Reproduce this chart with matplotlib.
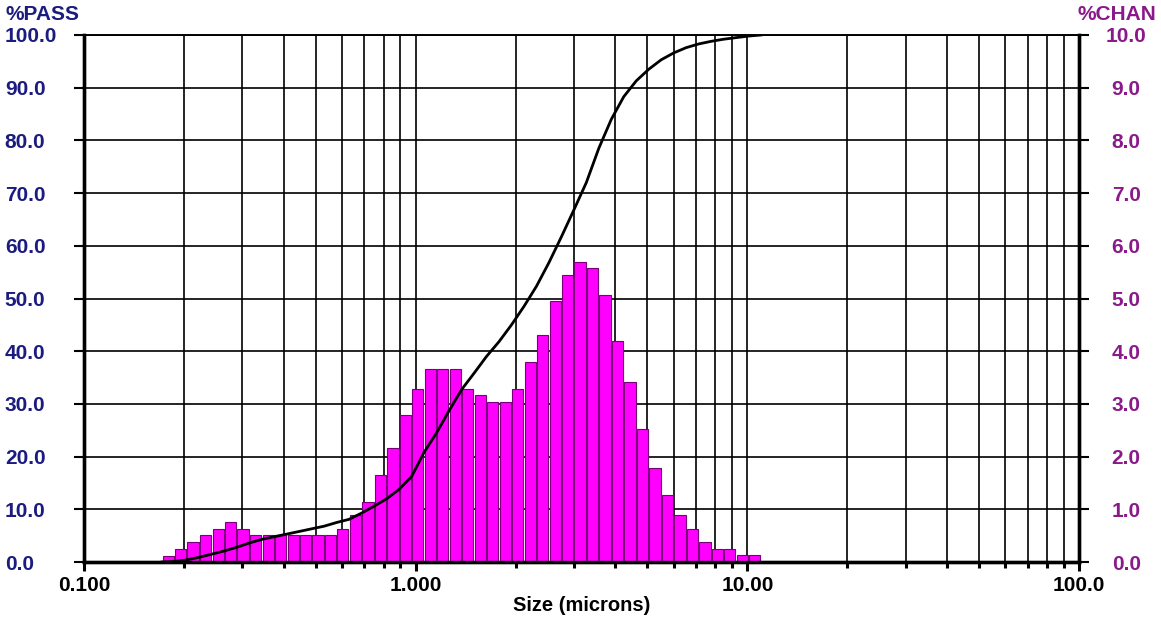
import numpy as np
import matplotlib
matplotlib.use('Agg')
import matplotlib.pyplot as plt
from matplotlib.ticker import FixedLocator, NullFormatter

plt.rcParams['font.family'] = ['Liberation Sans', 'DejaVu Sans']
plt.rcParams['font.weight'] = 'bold'

# channel edges (microns)
edges = [0.172, 0.187, 0.204, 0.223, 0.243, 0.265, 0.289, 0.315, 0.344, 0.375,
         0.409, 0.446, 0.486, 0.530, 0.578, 0.630, 0.688, 0.750, 0.818, 0.892,
         0.972, 1.060, 1.156, 1.261, 1.375, 1.499, 1.635, 1.783, 1.945, 2.121,
         2.312, 2.522, 2.750, 2.999, 3.270, 3.566, 3.889, 4.241, 4.625, 5.044,
         5.500, 5.998, 6.541, 7.133, 7.778, 8.482, 9.250, 10.09, 11.00]

# %CHAN per channel
chan = [0.12, 0.25, 0.38, 0.51, 0.63, 0.76, 0.63, 0.51, 0.51, 0.51,
        0.51, 0.51, 0.51, 0.51, 0.63, 0.89, 1.14, 1.65, 2.17, 2.79,
        3.29, 3.66, 3.66, 3.66, 3.29, 3.17, 3.04, 3.04, 3.29, 3.80,
        4.30, 4.95, 5.45, 5.69, 5.57, 5.07, 4.19, 3.42, 2.53, 1.78,
        1.27, 0.89, 0.63, 0.38, 0.25, 0.25, 0.13, 0.13]

# %PASS at each channel edge
cum_pass = [0.0, 0.1, 0.4, 0.9, 1.5, 2.1, 2.8, 3.6, 4.3, 4.8,
            5.3, 5.8, 6.3, 6.8, 7.5, 8.1, 9.3, 10.6, 12.0, 13.8,
            16.2, 20.8, 24.5, 28.7, 32.7, 35.8, 39.0, 41.8, 45.0, 48.5,
            52.3, 56.8, 61.7, 66.8, 72.0, 78.5, 84.0, 88.3, 91.3, 93.5,
            95.3, 96.6, 97.6, 98.3, 98.8, 99.2, 99.5, 99.8, 100.0]

pass_ticks = [0, 10, 20, 30, 40, 50, 60, 70, 80, 90, 100]
chan_ticks = [0, 1, 2, 3, 4, 5, 6, 7, 8, 9, 10]
x_major = [0.1, 1.0, 10.0, 100.0]
x_labels = ['0.100', '1.000', '10.00', '100.0']

navy = '#1c1c80'
purple = '#8a1a8a'

fig = plt.figure(figsize=(11.61, 6.17), dpi=100)
ax2 = fig.add_axes([84/1161, 55/617, 995/1161, 527/617])   # bars, right scale
ax = ax2.twinx()                                             # curve, left scale
ax.yaxis.tick_left()
ax.yaxis.set_label_position('left')
ax2.yaxis.tick_right()
ax2.yaxis.set_label_position('right')
ax.set_zorder(ax2.get_zorder() + 1)
ax.patch.set_visible(False)

# bars, a bit narrower than each channel
e = np.log10(edges)
gap = 0.05 * (e[1:] - e[:-1])
left = 10 ** (e[:-1] + gap)
right = 10 ** (e[1:] - gap)
ax2.bar(left, chan, width=right - left, align='edge', color='#ff00ff',
        edgecolor='#7a007a', linewidth=0.8, zorder=3)

ax.plot(edges, cum_pass, color='black', lw=2.0, zorder=4)

ax2.set_xscale('log')
ax2.set_xlim(0.1, 100)
ax2.set_ylim(0, 10)
ax.set_ylim(0, 100)

ax2.xaxis.set_major_locator(FixedLocator(x_major))
ax2.set_xticklabels(x_labels)
ax2.xaxis.set_minor_locator(FixedLocator(
    [m * d for d in (0.1, 1, 10) for m in range(2, 10)]))
ax2.xaxis.set_minor_formatter(NullFormatter())
ax2.set_yticks(chan_ticks)
ax2.set_yticklabels(['%.1f' % v for v in chan_ticks])
ax.set_yticks(pass_ticks)
ax.set_yticklabels(['%.1f' % v for v in pass_ticks])

ax2.set_axisbelow(True)
ax2.grid(True, which='both', axis='x', color='black', lw=1.2)
ax2.grid(True, which='major', axis='y', color='black', lw=1.2)

for a in (ax, ax2):
    for s in ('left', 'right', 'bottom'):
        a.spines[s].set_linewidth(2.4)
    a.spines['top'].set_linewidth(1.2)

ax.tick_params(axis='y', direction='out', length=7.5, width=1.5, pad=49.5,
               labelsize=15, labelcolor=navy)
for t in ax.get_yticklabels():
    t.set_horizontalalignment('left')
ax2.tick_params(axis='y', direction='out', length=7.5, width=1.5, pad=26.5,
                labelsize=15, labelcolor=purple)
for t in ax2.get_yticklabels():
    t.set_horizontalalignment('center')
ax2.tick_params(axis='x', which='major', direction='out', length=6.5, width=2.2,
                pad=3.5, labelsize=15)
ax2.tick_params(axis='x', which='minor', direction='out', length=4.5, width=2.2)

ax2.set_xlabel('Size (microns)', fontsize=14.5, fontweight='bold', labelpad=1)

fig.text(5/1161, 1 - 15/617, '%PASS', ha='left', va='center', fontsize=15,
         color=navy, fontweight='bold')
fig.text(1156/1161, 1 - 15/617, '%CHAN', ha='right', va='center', fontsize=15,
         color=purple, fontweight='bold')

fig.savefig('out.png', dpi=100, facecolor='white')
